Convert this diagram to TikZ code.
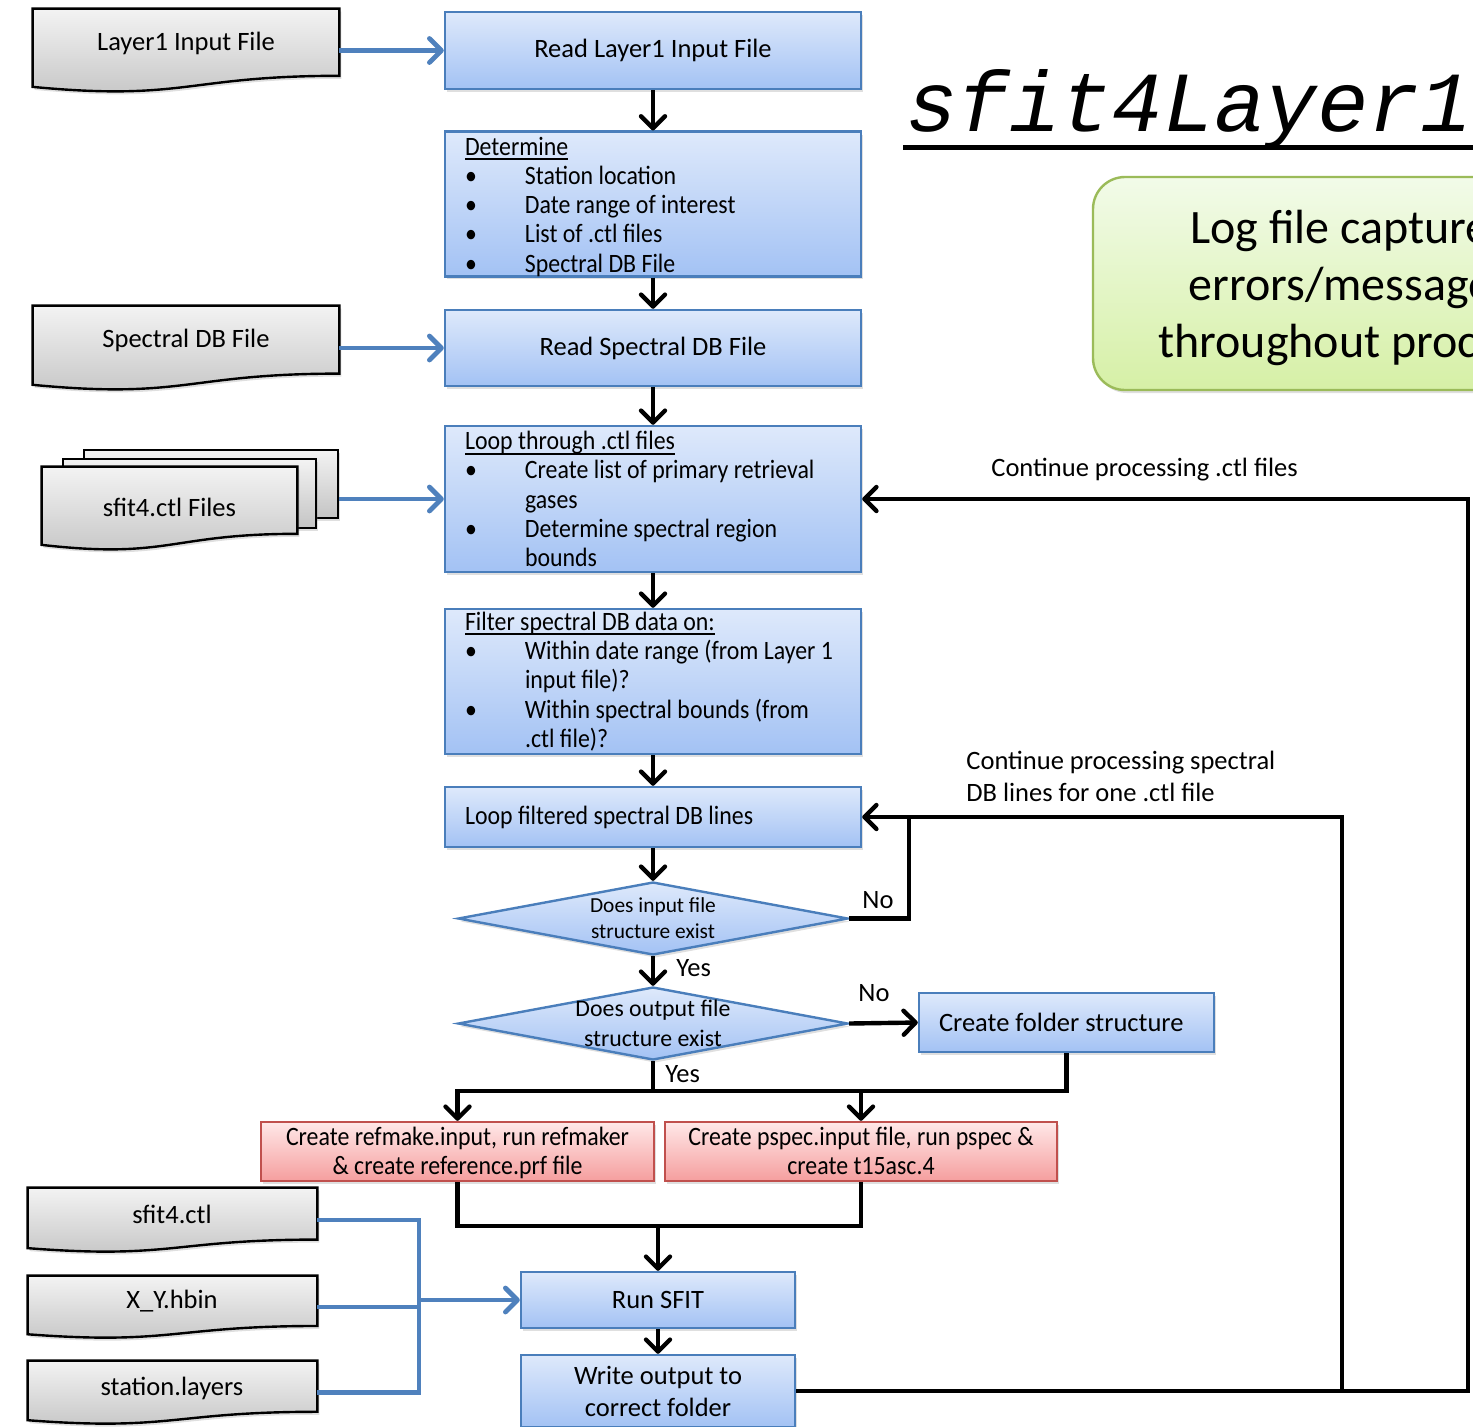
\documentclass[tikz,border=0pt]{standalone}
\usepackage{fontspec}
\setmainfont{Carlito}
\newfontfamily\narrowfont{Carlito}[FakeStretch=0.9]
\newfontfamily\ttlfont{Liberation Mono}
\usetikzlibrary{arrows.meta,shapes.geometric,shadows,calc}

\definecolor{bline}{RGB}{79,129,189}
\definecolor{btop}{RGB}{222,233,251}
\definecolor{bbot}{RGB}{163,194,244}
\definecolor{bedge}{RGB}{74,126,187}
\definecolor{rtop}{RGB}{255,232,232}
\definecolor{rbot}{RGB}{245,158,158}
\definecolor{redge}{RGB}{192,80,77}
\definecolor{gtop}{RGB}{242,251,233}
\definecolor{gbot}{RGB}{214,240,166}
\definecolor{gedge}{RGB}{155,187,89}
\definecolor{dtop}{RGB}{243,243,243}
\definecolor{dbot}{RGB}{196,196,196}

% underlined list heading, rule crossing descenders
\newcommand{\ulhead}[1]{\leavevmode\setbox0\hbox{#1}\rlap{\rule[-2.4pt]{\wd0}{0.9pt}}\box0}
\newcommand{\itembul}{\makebox[30pt][l]{\textbullet}}
\newcommand{\itemind}{\hspace*{30pt}}
% two centred lines, set 1.5pt lower without changing the reported size
\newcommand{\twolines}[2]{\raisebox{-1.5pt}[\height][\depth]{\begin{tabular}{@{}c@{}}#1\\#2\end{tabular}}}
% file symbol with wavy bottom, drawn over the frame node #1
\newcommand{\fileoutline}[1]{%
  \path[docpath] (#1.north west) -- (#1.north east)
    -- ($(#1.north east)!0.802!(#1.south east)$)
    .. controls ($(#1.north)!0.802!(#1.south)$) and ($(#1.north)!1.108!(#1.south)$)
    .. ($(#1.north west)!0.934!(#1.south west)$) -- cycle;}

\begin{document}
\begin{tikzpicture}[x=0.5pt,y=-0.5pt,
  every node/.style={inner sep=0pt},
  mainfont/.style={font=\fontsize{13.25}{14.6}\selectfont},
  narrow/.style={font=\narrowfont\fontsize{13.25}{14.6}\selectfont},
  shadowed/.style={drop shadow={shadow xshift=1pt,shadow yshift=-1.5pt,opacity=0.25}},
  box/.style={draw=bedge,line width=1.2pt,top color=btop,bottom color=bbot,shadowed,
    minimum width=208pt,mainfont,align=center},
  lbox/.style={box,narrow,text width=188pt,align=flush left},
  dia/.style={shape=diamond,draw=bedge,line width=1.2pt,top color=btop,bottom color=bbot,
    shadowed,minimum width=195pt,minimum height=36.5pt},
  rbox/.style={box,narrow,draw=redge,top color=rtop,bottom color=rbot,minimum height=29.5pt},
  docframe/.style={minimum width=153pt},
  docpath/.style={draw=black,line width=1.2pt,top color=dtop,bottom color=dbot,shadowed},
  docrect/.style={draw=black,line width=1.2pt,top color=dtop,bottom color=dbot,shadowed},
  doctext/.style={mainfont},
  lbl/.style={mainfont,anchor=west},
  ln/.style={draw=black,line width=2.2pt},
  arr/.style={ln,-{Straight Barb[round,length=6pt,width=12pt]}},
  bln/.style={draw=bline,line width=2.4pt},
  barr/.style={bln,-{Straight Barb[round,length=6pt,width=12pt]}},
]
\useasboundingbox (0,0) rectangle (1473,1426);
\clip (0,0) rectangle (1473,1426);

% ---- title and log note
\node[anchor=base west,font={\ttlfont\itshape\fontsize{42.8}{48}\selectfont}] (ttl) at (906,131) {sfit4Layer1};
\coordinate (ulA) at (903,147);
\coordinate (ulB) at (1480,147);
\draw[line width=2.5pt] (ulA) -- (ulB);

\node[draw=gedge,line width=1.2pt,top color=gtop,bottom color=gbot,rounded corners=16pt,shadowed,
  minimum width=380pt,minimum height=106.5pt] (log) at (1473,283.5) {};
\node[anchor=base west,font=\fontsize{24}{28}\selectfont] (logA) at (1190,243) {Log file captures all};
\node[anchor=base west,font=\fontsize{24}{28}\selectfont] (logB) at (1188,300) {errors/messages};
\node[anchor=base west,font=\fontsize{24}{28}\selectfont] (logC) at (1158,357) {throughout processing};

% ---- main column
\node[box,minimum height=38.5pt] (r1) at (653,50.5) {Read Layer1 Input File};
\node[lbox,minimum height=72pt] (det) at (653,204) {\ulhead{Determine}\rule{0pt}{11.8pt}\\
  \itembul Station location\\
  \itembul Date range of interest\\
  \itembul List of .ctl files\\
  \itembul Spectral DB File};
\node[box,minimum height=38pt] (rs) at (653,348) {Read Spectral DB File};
\node[lbox,minimum height=73pt] (lt) at (653,499) {\ulhead{Loop through .ctl files}\\
  \itembul Create list of primary retrieval\\
  \itemind gases\\
  \itembul Determine spectral region\\
  \itemind bounds};
\node[lbox,minimum height=72.5pt] (flt) at (653,681.5) {\ulhead{Filter spectral DB data on:}\\
  \itembul Within date range (from Layer 1\\
  \itemind input file)?\\
  \itembul Within spectral bounds (from\\
  \itemind .ctl file)?};
\node[lbox,minimum height=30pt] (lf) at (653,817) {Loop filtered spectral DB lines};

\node[dia] (d1) at (653,918.5) {};
\node[align=center,font=\fontsize{10.7}{13}\selectfont] (d1t) at (d1.center) {Does input file\\structure exist};
\node[dia] (d2) at (653,1023.5) {};
\node[align=center,font=\fontsize{11.9}{15}\selectfont] (d2t) at (d2.center) {Does output file\\structure exist};

\node[box,text width=127.5pt,align=flush left,minimum width=147.5pt,minimum height=29.5pt] (cf) at (1066.5,1022.5) {Create folder structure};

\node[rbox,minimum width=196.5pt] (red1) at (457.5,1151.5)
  {\twolines{Create refmake.input, run refmaker}{\& create reference.prf file}};
\node[rbox,minimum width=196pt] (red2) at (861,1151.5)
  {\twolines{Create pspec.input file, run pspec \&}{create t15asc.4}};

\node[box,minimum width=137pt,minimum height=28pt] (sfit) at (658,1300) {Run SFIT};
\node[box,minimum width=137pt,minimum height=36pt,font=\fontsize{13.25}{16}\selectfont] (wo) at (658,1391) {Write output to\\correct folder};

% ---- input files
\node[docframe,minimum height=41.5pt] (l1) at (186,50.5) {};
\fileoutline{l1}
\node[doctext] (l1t) at (186,43) {Layer1 Input File};

\node[docframe,minimum height=42pt] (sp) at (186,348) {};
\fileoutline{sp}
\node[doctext] (spt) at (186,340) {Spectral DB File};

\node[docrect,minimum width=127pt,minimum height=34pt] (back) at (211,484) {};
\node[docrect,minimum width=126.5pt,minimum height=34.5pt] (mid) at (189.5,493.5) {};
\node[minimum width=127.5pt,minimum height=41.5pt] (front) at (169.5,508.5) {};
\fileoutline{front}
\node[doctext] (frontt) at (169.5,507) {sfit4.ctl Files};

\node[minimum width=144.5pt,minimum height=32pt] (s1) at (172.5,1220) {};
\fileoutline{s1}
\node[doctext] (s1t) at (172,1214) {sfit4.ctl};
\node[minimum width=144.5pt,minimum height=31pt] (s2) at (172.5,1307) {};
\fileoutline{s2}
\node[doctext] (s2t) at (172,1301) {X\_Y.hbin};
\node[minimum width=144.5pt,minimum height=31.5pt] (s3) at (172.5,1392.5) {};
\fileoutline{s3}
\node[doctext] (s3t) at (172,1388) {station.layers};

% ---- labels
\node[lbl] (cont1) at (991,470) {Continue processing .ctl files};
\node[lbl,align=left,font=\fontsize{13.25}{16}\selectfont] (cont2) at (966,776) {Continue processing spectral\\DB lines for one .ctl file};
\node[lbl] (no1) at (862,900) {No};
\node[lbl] (yes1) at (676,968) {Yes};
\node[lbl] (no2) at (858,993) {No};
\node[lbl] (yes2) at (665,1074) {Yes};

% ---- flow connectors
\draw[arr] (r1.south) -- (det.north);
\draw[arr] (det.south) -- (rs.north);
\draw[arr] (rs.south) -- (lt.north);
\draw[arr] (lt.south) -- (flt.north);
\draw[arr] (flt.south) -- (lf.north);
\draw[arr] (lf.south) -- (d1.north);
\draw[arr] (d1.south) -- (d2.north);
\draw[arr] (d2.east) -- (cf.west);

\coordinate (jy) at (653,1091);
\draw[ln] (d2.south) -- (jy);
\draw[ln] (cf.south) |- (jy);
\draw[arr] (jy) -| (red1.north);
\draw[arr] (jy) -| (red2.north);

\coordinate (jb) at (658,1226);
\draw[ln] (red1.south) |- (jb) -| (red2.south);
\draw[arr] (jb) -- (sfit.north);
\draw[arr] (sfit.south) -- (wo.north);

\coordinate (outer) at (1468,1391);
\coordinate (inner) at (1342,1391);
\draw[arr] (wo.east) -- (outer) |- (lt.east);
\draw[arr] (inner) |- (lf.east);
\coordinate (nojoin) at (909,817);
\draw[ln] (d1.east) -| (nojoin);

% ---- file inputs
\draw[barr] (l1.east) -- (r1.west);
\draw[barr] (sp.east) -- (rs.west);
\draw[barr] (back.east |- lt.west) -- (lt.west);
\coordinate (busT) at (419,1220);
\coordinate (busB) at (419,1392.5);
\draw[bln] (s1.east) -- (busT) -- (busB) -- (s3.east);
\draw[bln] (s2.east) -- (s2.east -| busT);
\draw[barr] (busT |- sfit.west) -- (sfit.west);
\end{tikzpicture}
\end{document}
